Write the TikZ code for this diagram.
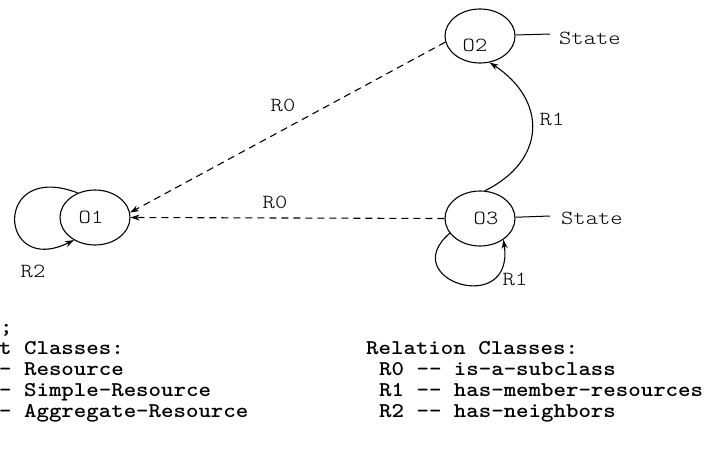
\documentclass[tikz,border=0pt]{standalone}
\usepackage{fontspec}
\usetikzlibrary{shapes.geometric,arrows.meta}
\newcommand{\legtext}[1]{\scalebox{1.13}[1]{#1}}
\newcommand{\wide}[1]{\scalebox{1.17}[1]{#1}}
\newcommand{\dd}{-\kern0pt-}
\begin{document}
\begin{tikzpicture}[x=1pt,y=-1pt,
  obj/.style={draw,ellipse,line width=1.1pt,minimum width=70pt,minimum height=55pt,inner sep=0pt},
  lab/.style={font=\ttfamily\fontseries{l}\fontsize{20}{22}\selectfont,inner sep=0pt},
  leg/.style={font=\ttfamily\fontseries{b}\fontsize{21}{22}\selectfont,inner sep=0pt,anchor=base west},
  rel/.style={line width=1.1pt,-{Stealth[length=9pt,width=6pt]}},
  dashrel/.style={rel,dash pattern=on 7pt off 5pt},
  plain/.style={line width=1pt}]
\useasboundingbox (0,0) rectangle (709,450);

% objects
\node[obj,label={[lab,xshift=-4pt]center:\wide{O1}}] (o1) at (95,217.5) {};
\node[obj,minimum height=54pt,label={[lab,xshift=-5pt,yshift=-9pt]center:\wide{O2}}] (o2) at (480,36) {};
\node[obj,label={[lab,xshift=6pt]center:\wide{O3}}] (o3) at (480,218.5) {};

% state attributes
\node[lab,anchor=west] (st2) at (559,38) {\wide{State}};
\node[lab,anchor=west] (st3) at (561,218) {\wide{State}};
\coordinate (c2) at (550,34);
\coordinate (c3) at (550,216);
\draw[plain] (o2) -- (c2);
\draw[plain] (o3) -- (c3);

% R0 relations
\draw[dashrel] (o2.190) -- (o1.8);
\draw[dashrel] (o3.180) -- (o1.0);
\node[lab] (r0a) at (283,105) {\wide{R0}};
\node[lab] (r0b) at (275,202) {\wide{R0}};

% R1 relation O3 -> O2
\draw[rel] (o3.80) .. controls (547,160) and (547,100) .. (o2.-70);
\node[lab] (r1a) at (552,119) {\wide{R1}};

% R1 self loop on O3
\draw[rel] (o3.206) .. controls (395,280) and (515,318) .. (o3.-42);
\node[lab] (r1b) at (515,279) {\wide{R1}};

% R2 self loop on O1
\draw[rel] (o1.125) .. controls (-8,160) and (-2,278) .. (o1.227);
\node[lab] (r2) at (33,271) {\wide{R2}};

% legend, left column
\node[leg] (l0) at (0,333) {\legtext{;}};
\node[leg] (l1) at (-1,354) {\legtext{t Classes:}};
\node[leg] (l2) at (-1,375.5) {\legtext{- Resource}};
\node[leg] (l3) at (-1,396.5) {\legtext{- Simple-Resource}};
\node[leg] (l4) at (-1,417.7) {\legtext{- Aggregate-Resource}};

% legend, right column
\node[leg] (m1) at (366,354) {\legtext{Relation Classes:}};
\node[leg] (m2) at (379,375.5) {\legtext{R0 \dd{} is-a-subclass}};
\node[leg] (m3) at (379,396.5) {\legtext{R1 \dd{} has-member-resources}};
\node[leg] (m4) at (379,417.7) {\legtext{R2 \dd{} has-neighbors}};
\end{tikzpicture}
\end{document}
